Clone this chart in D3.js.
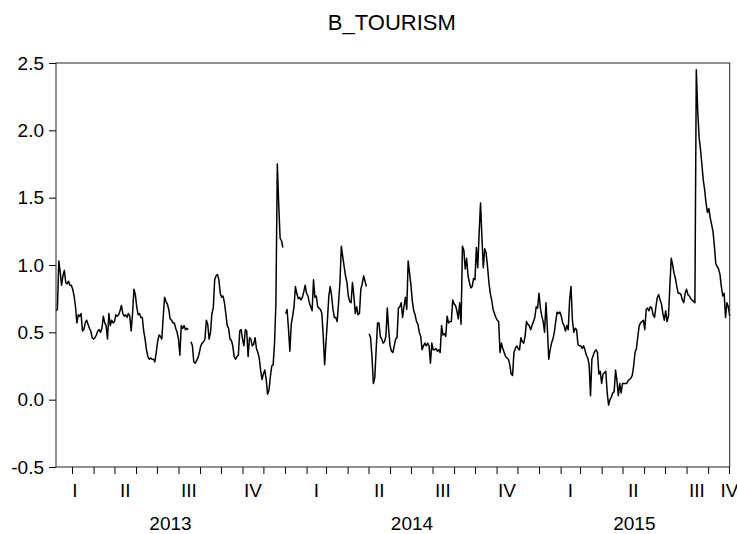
<!DOCTYPE html>
<html>
<head>
<meta charset="utf-8">
<script src="https://cdn.jsdelivr.net/npm/d3@7"></script>
<style>
  html, body { margin: 0; padding: 0; background: #fff; }
  svg { display: block; }
  text { font-family: "Liberation Sans", Arial, sans-serif; fill: #000; }
</style>
</head>
<body>
<svg id="chart" width="737" height="534"></svg>
<script>
// B_TOURISM, sampled every two calendar days from the first observation.
const chartTitle = "B_TOURISM";
const seriesStart = "2013-02-06";
const seriesEnd = "2015-10-02";
const stepDays = 2;
const values = [
  .66,.67,1.03,.95,.85,.92,.96,.87,.86,.88,.85,.85,.82,.77,.69,.57,.63,.62,.64,.51,
  .52,.57,.59,.56,.53,.51,.46,.45,.46,.48,.51,.52,.50,.53,.62,.57,.55,.45,.64,.55,
  .59,.57,.58,.63,.62,.63,.66,.70,.64,.62,.63,.61,.64,.62,.51,.64,.82,.78,.69,.63,
  .64,.61,.61,.51,.45,.37,.32,.30,.31,.30,.30,.28,.35,.43,.48,.47,.45,.61,.76,.73,
  .71,.67,.60,.59,.57,.57,.53,.50,.45,.33,.55,.53,.55,.52,.53,.52,null,.43,.40,.28,
  .27,.29,.31,.35,.40,.42,.43,.45,.59,.56,.45,.50,.64,.68,.89,.92,.93,.89,.79,.76,
  .77,.72,.64,.55,.53,.45,.44,.40,.32,.30,.32,.33,.51,.52,.45,.40,.52,.51,.32,.46,
  .45,.40,.41,.46,.38,.35,.31,.22,.15,.19,.22,.15,.04,.07,.17,.25,.26,.42,.72,1.75,
  1.45,1.20,1.18,1.13,null,.64,.67,.53,.36,.56,.62,.69,.84,.79,.75,.76,.74,.76,.80,.85,
  .79,.77,.72,.69,.66,.89,.76,.77,.69,.68,.67,.64,.47,.26,.43,.59,.77,.84,.77,.67,
  .61,.61,.58,.72,.87,1.14,1.06,.99,.92,.87,.77,.73,.72,.87,.77,.64,.69,.63,.64,.82,
  .86,.92,.88,.84,null,.49,.46,.32,.12,.16,.37,.57,.57,.47,.45,.42,.43,.47,.68,.52,
  .40,.36,.35,.40,.45,.46,.68,.69,.72,.61,.69,.76,.67,1.03,.94,.85,.73,.66,.63,.58,
  .56,.50,.47,.37,.40,.42,.40,.42,.40,.27,.42,.37,.37,.38,.36,.37,.35,.55,.48,.49,
  .47,.62,.57,.58,.58,.74,.71,.70,.66,.60,.72,.56,1.14,1.11,.97,1.05,.92,.87,.83,.84,
  .90,.89,1.13,.98,1.24,1.46,1.20,.98,1.12,1.09,.99,.87,.79,.74,.67,.64,.61,.59,.58,.35,
  .42,.38,.35,.32,.31,.30,.26,.19,.18,.35,.38,.40,.38,.37,.46,.43,.42,.47,.58,.56,
  .55,.52,.55,.58,.61,.69,.68,.79,.68,.62,.58,.50,.72,.53,.30,.37,.42,.45,.50,.58,
  .65,.64,.65,.62,.57,.55,.51,.55,.52,.74,.84,.59,.50,.53,.52,.41,.40,.40,.38,.40,
  .37,.33,.31,.26,.03,.30,.33,.36,.37,.35,.19,.21,.12,.19,.20,.21,.05,-.04,0,.02,
  .05,.06,.22,.14,.03,.12,.05,.12,.12,.12,.12,.14,.15,.16,.18,.25,.35,.38,.47,.55,
  .57,.58,.59,.52,.67,.68,.66,.69,.68,.63,.61,.69,.76,.78,.74,.71,.64,.59,.66,.58,
  .62,.84,1.05,1.00,.94,.90,.84,.79,.79,.78,.74,.72,.79,.82,.78,.77,.75,.74,.73,.72,
  2.45,2.15,1.95,1.86,1.75,1.63,1.56,1.46,1.39,1.42,1.35,1.30,1.25,1.14,1.01,.99,.97,.93,.84,.77,
  .79,.61,.72,.69,.62
];
const yTickValues = [-0.5, 0.0, 0.5, 1.0, 1.5, 2.0, 2.5];
const quarterNames = ["I", "II", "III", "IV"];

// Layout
const plot = { left: 56, right: 729.7, top: 63, bottom: 467 };
const fontSize = 19;

const parse = d3.utcParse("%Y-%m-%d");
const t0 = parse(seriesStart);
const t1 = parse(seriesEnd);

const data = values.map((v, i) => ({ date: d3.utcDay.offset(t0, i * stepDays), value: v }));

const x = d3.scaleUtc().domain([t0, t1]).range([plot.left, plot.right]);
const y = d3.scaleLinear().domain([-0.5, 2.5]).range([plot.bottom, plot.top]);

const svg = d3.select("#chart");

// Title
svg.append("text")
  .attr("x", (plot.left + plot.right) / 2 - 1)
  .attr("y", 30)
  .attr("text-anchor", "middle")
  .style("font-size", "22px")
  .text(chartTitle);

// Y axis: ticks outside the left edge, labels right-aligned, plain hyphen for negatives
const yAxis = d3.axisLeft(y)
  .tickValues(yTickValues)
  .tickFormat(d => d.toFixed(1))
  .tickSize(7)
  .tickPadding(5);
const gy = svg.append("g").attr("transform", `translate(${plot.left},0)`).call(yAxis);
gy.select(".domain").remove();
gy.selectAll("line").attr("stroke", "#000");
gy.selectAll("text").style("font-size", fontSize + "px").attr("fill", "#000");

// X axis: a tick at every month start
const monthStarts = d3.utcMonth.range(d3.utcMonth.ceil(t0), d3.utcDay.offset(t1, 1));
const xAxis = d3.axisBottom(x).tickValues(monthStarts).tickSize(7).tickFormat("");
const gx = svg.append("g").attr("transform", `translate(0,${plot.bottom})`).call(xAxis);
gx.select(".domain").remove();
gx.selectAll("line").attr("stroke", "#000");

// Quarter labels, centred on the visible part of each quarter
const quarterStarts = d3.utcMonth.every(3).range(d3.utcYear.floor(t0), d3.utcDay.offset(t1, 1));
svg.append("g").selectAll("text")
  .data(quarterStarts)
  .join("text")
  .attr("x", q => {
    const a = q < t0 ? t0 : q;
    const e = d3.utcMonth.offset(q, 3);
    const b = e > t1 ? t1 : e;
    return (x(a) + x(b)) / 2;
  })
  .attr("y", 497)
  .attr("text-anchor", "middle")
  .style("font-size", fontSize + "px")
  .text(q => quarterNames[Math.floor(q.getUTCMonth() / 3)]);

// Year labels, centred on the visible part of each year
const yearStarts = d3.utcYear.range(d3.utcYear.floor(t0), t1);
svg.append("g").selectAll("text")
  .data(yearStarts)
  .join("text")
  .attr("x", yr => {
    const a = yr < t0 ? t0 : yr;
    const e = d3.utcYear.offset(yr, 1);
    const b = e > t1 ? t1 : e;
    return (x(a) + x(b)) / 2;
  })
  .attr("y", 530)
  .attr("text-anchor", "middle")
  .style("font-size", fontSize + "px")
  .text(yr => yr.getUTCFullYear());

// Series line, broken where observations are missing
const line = d3.line()
  .defined(d => d.value !== null)
  .x(d => x(d.date))
  .y(d => y(d.value));

svg.append("path")
  .datum(data)
  .attr("fill", "none")
  .attr("stroke", "#000")
  .attr("stroke-width", 1.5)
  .attr("stroke-linejoin", "round")
  .attr("d", line);

// Plot frame
svg.append("rect")
  .attr("x", plot.left)
  .attr("y", plot.top)
  .attr("width", plot.right - plot.left)
  .attr("height", plot.bottom - plot.top)
  .attr("fill", "none")
  .attr("stroke", "#222")
  .attr("stroke-width", 1);
</script>
</body>
</html>
